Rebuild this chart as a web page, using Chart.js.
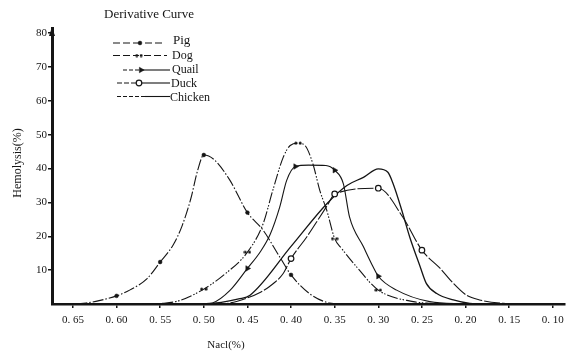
<!DOCTYPE html>
<html>
<head>
<meta charset="utf-8">
<script src="https://cdn.jsdelivr.net/npm/chart.js@4.4.0/dist/chart.umd.min.js"></script>
<style>
html,body{margin:0;padding:0;background:#fff;}
#wrap{width:570px;height:354px;position:relative;}
</style>
</head>
<body>
<div id="wrap"><canvas id="c" width="570" height="354"></canvas></div>
<script>
// ---- data ----
const chartTitle = 'Derivative Curve';
const xAxisTitle = 'Nacl(%)';
const yAxisTitle = 'Hemolysis(%)';
const xTickValues = [0.65, 0.60, 0.55, 0.50, 0.45, 0.40, 0.35, 0.30, 0.25, 0.20, 0.15, 0.10];
const yTickValues = [10, 20, 30, 40, 50, 60, 70, 80];
const seriesNames = ['Pig', 'Dog', 'Quail', 'Duck', 'Chicken'];

const pigNacl = [0.665, 0.65, 0.635, 0.62, 0.60, 0.585, 0.565, 0.55, 0.535, 0.525, 0.515, 0.507, 0.50, 0.488, 0.47, 0.45, 0.432, 0.413, 0.40, 0.379, 0.356, 0.34];
const pigHemo = [0, 0, 0.3, 1.0, 2.4, 4.1, 7.5, 12.4, 17.5, 23, 31, 39.5, 44, 42.6, 36.5, 27, 21.8, 13.9, 8.6, 3.1, 0.3, 0];
const pigMarks = [0.60, 0.55, 0.50, 0.45, 0.40];

const dogNacl = [0.57, 0.547, 0.528, 0.50, 0.475, 0.45, 0.432, 0.421, 0.409, 0.401, 0.392, 0.384, 0.375, 0.367, 0.359, 0.35, 0.342, 0.325, 0.30, 0.26, 0.24, 0.22];
const dogHemo = [0, 0.2, 1.0, 4.4, 9, 15.3, 23.7, 33.5, 43.3, 46.8, 47.5, 46.8, 41.4, 33.5, 27.6, 19.3, 16.4, 11, 4.1, 0.7, 0.2, 0];
const dogMarks = [0.50, 0.45, 0.392, 0.35, 0.30];

const quailNacl = [0.50, 0.49, 0.47, 0.45, 0.435, 0.424, 0.413, 0.405, 0.395, 0.38, 0.36, 0.35, 0.34, 0.333, 0.317, 0.306, 0.30, 0.279, 0.241, 0.20];
const quailHemo = [0, 0.3, 4, 10.5, 15.5, 20.5, 28.6, 36.5, 40.6, 41, 40.9, 39.5, 35.5, 25.7, 16.9, 11, 8.2, 4.1, 0.7, 0];
const quailMarks = [0.45, 0.395, 0.35, 0.30];

const duckNacl = [0.49, 0.47, 0.45, 0.435, 0.425, 0.409, 0.40, 0.382, 0.367, 0.358, 0.35, 0.30, 0.272, 0.25, 0.229, 0.214, 0.199, 0.184, 0.157, 0.13];
const duckHemo = [0, 0.3, 1.8, 3.5, 5.1, 9, 13.4, 19.8, 25.7, 29.3, 32.5, 34.2, 25.7, 15.9, 10.5, 6.1, 2.6, 1.2, 0.2, 0];
const duckMarks = [0.40, 0.35, 0.30, 0.25];

const chickenNacl = [0.50, 0.48, 0.46, 0.447, 0.40, 0.359, 0.336, 0.317, 0.30, 0.289, 0.283, 0.273, 0.264, 0.252, 0.245, 0.233, 0.214, 0.195, 0.17];
const chickenHemo = [0, 0.5, 1.5, 2.6, 17, 29.6, 35, 37.4, 39.9, 38.9, 35.5, 27.6, 19.8, 11, 6.1, 3.1, 1.2, 0.2, 0];
const chickenMarks = [];

// ---- styles ----
const INK = '#151515';
const SERIF = '"Liberation Serif", "DejaVu Serif", serif';

function makeDoubleDot() {
  const cv = document.createElement('canvas');
  cv.width = 8; cv.height = 4;
  const c = cv.getContext('2d');
  c.fillStyle = INK;
  c.beginPath(); c.arc(1.8, 2, 1.5, 0, Math.PI * 2); c.fill();
  c.beginPath(); c.arc(6.2, 2, 1.5, 0, Math.PI * 2); c.fill();
  return cv;
}
const doubleDot = makeDoubleDot();

const styles = {
  Pig:     {dash: [11, 2, 1.5, 2], style: 'circle', radius: 1.9, fill: INK, rotation: 0},
  Dog:     {dash: [11, 2, 1.5, 1.5, 1.5, 2], style: doubleDot, radius: 3, fill: INK, rotation: 0},
  Quail:   {dash: [], style: 'triangle', radius: 3.2, fill: INK, rotation: 90},
  Duck:    {dash: [16, 2], style: 'circle', radius: 2.8, fill: '#fff', rotation: 0},
  Chicken: {dash: [], style: 'circle', radius: 0, fill: INK, rotation: 0}
};

const seriesData = {
  Pig: [pigNacl, pigHemo, pigMarks],
  Dog: [dogNacl, dogHemo, dogMarks],
  Quail: [quailNacl, quailHemo, quailMarks],
  Duck: [duckNacl, duckHemo, duckMarks],
  Chicken: [chickenNacl, chickenHemo, chickenMarks]
};

const datasets = seriesNames.map(name => {
  const [xs, ys, marks] = seriesData[name];
  const st = styles[name];
  return {
    label: name,
    data: xs.map((x, i) => ({x: x, y: ys[i]})),
    borderColor: INK,
    borderWidth: name === 'Chicken' ? 1.3 : 1.1,
    borderDash: st.dash,
    cubicInterpolationMode: 'monotone',
    fill: false,
    pointStyle: st.style,
    pointRotation: st.rotation,
    pointBackgroundColor: st.fill,
    pointBorderColor: INK,
    pointBorderWidth: name === 'Duck' ? 1.2 : 0.5,
    pointRadius: ctx => (ctx.raw && marks.includes(ctx.raw.x)) ? st.radius : 0,
    pointHoverRadius: 0
  };
});

const legendDash = {Pig: [7, 3], Dog: [7, 3], Quail: [4, 2], Duck: [5, 2], Chicken: [4, 2]};

const decor = {
  id: 'decor',
  afterDraw(chart) {
    const ctx = chart.ctx;
    const area = chart.chartArea;
    ctx.save();
    ctx.fillStyle = INK;
    ctx.strokeStyle = INK;
    // title
    ctx.font = '13px ' + SERIF;
    ctx.textAlign = 'center';
    ctx.textBaseline = 'middle';
    ctx.fillText(chartTitle, 149, 15);
    // arrow on y axis
    ctx.beginPath();
    ctx.moveTo(area.left, area.top - 1);
    ctx.lineTo(area.left - 3, area.top + 8);
    ctx.lineTo(area.left + 3, area.top + 8);
    ctx.closePath();
    ctx.fill();
    // legend
    const rows = [
      {name: 'Pig', x1: 113, x2: 165, y: 43, mx: 140, tx: 173, ty: 40.5},
      {name: 'Dog', x1: 113, x2: 167, y: 55.5, mx: 139, tx: 172, ty: 56},
      {name: 'Quail', x1: 123, x2: 170, y: 70, mx: 141, tx: 172, ty: 70},
      {name: 'Duck', x1: 117, x2: 170, y: 83, mx: 139, tx: 171, ty: 84},
      {name: 'Chicken', x1: 117, x2: 170, y: 96.5, mx: null, tx: 170, ty: 97.5}
    ];
    rows.forEach(r => {
      const st = styles[r.name];
      ctx.save();
      ctx.lineWidth = 1.1;
      ctx.setLineDash(legendDash[r.name]);
      ctx.beginPath();
      const solidFrom = (r.name === 'Chicken') ? 145 : (r.mx !== null ? r.mx : r.x2);
      ctx.moveTo(r.x1, r.y);
      ctx.lineTo(solidFrom, r.y);
      ctx.stroke();
      if (r.name === 'Pig' || r.name === 'Dog') {
        ctx.beginPath(); ctx.moveTo(solidFrom + 5, r.y); ctx.lineTo(r.x2, r.y); ctx.stroke();
      } else {
        ctx.setLineDash([]);
        ctx.beginPath(); ctx.moveTo(solidFrom, r.y); ctx.lineTo(r.x2, r.y); ctx.stroke();
      }
      ctx.restore();
      if (r.mx !== null) {
        ctx.save();
        ctx.fillStyle = st.fill;
        ctx.strokeStyle = INK;
        ctx.lineWidth = r.name === 'Duck' ? 1.2 : 0.5;
        Chart.helpers.drawPoint(ctx, {pointStyle: st.style, radius: st.radius, rotation: st.rotation, borderWidth: ctx.lineWidth}, r.mx, r.y);
        ctx.restore();
      }
      ctx.font = (r.name === 'Pig' ? '13px ' : '12px ') + SERIF;
      ctx.textAlign = 'left';
      ctx.textBaseline = 'middle';
      ctx.fillStyle = INK;
      ctx.fillText(r.name, r.tx, r.ty);
    });
    // axis titles
    ctx.font = '11px ' + SERIF;
    ctx.textAlign = 'center';
    ctx.textBaseline = 'middle';
    ctx.fillText(xAxisTitle, 226, 345);
    ctx.font = '12px ' + SERIF;
    ctx.save();
    ctx.translate(18, 163);
    ctx.rotate(-Math.PI / 2);
    ctx.fillText(yAxisTitle, 0, 0);
    ctx.restore();
    ctx.restore();
  }
};

new Chart(document.getElementById('c'), {
  type: 'line',
  data: {datasets: datasets},
  plugins: [decor],
  options: {
    responsive: false,
    animation: false,
    devicePixelRatio: 1,
    layout: {padding: {top: 28, right: 5, left: 0, bottom: 0}},
    plugins: {legend: {display: false}, title: {display: false}, tooltip: {enabled: false}},
    scales: {
      x: {
        type: 'linear',
        reverse: true,
        min: 0.086,
        max: 0.674,
        afterBuildTicks: s => { s.ticks = xTickValues.map(v => ({value: v})); },
        afterFit: s => { s.height = 50; },
        ticks: {
          callback: v => Number(v).toFixed(2).replace('.', '. '),
          font: {family: SERIF, size: 11},
          color: INK,
          padding: 6,
          maxRotation: 0,
          autoSkip: false
        },
        grid: {display: true, drawOnChartArea: false, drawTicks: true, tickLength: 4, color: INK, lineWidth: 1.5},
        border: {display: true, color: INK, width: 2.5}
      },
      y: {
        type: 'linear',
        min: 0,
        max: 81.5,
        afterBuildTicks: s => { s.ticks = yTickValues.map(v => ({value: v})); },
        afterFit: s => { s.width = 52; },
        ticks: {
          callback: v => String(v),
          font: {family: SERIF, size: 11},
          color: INK,
          padding: 1
        },
        grid: {display: true, drawOnChartArea: false, drawTicks: true, tickLength: 4, color: INK, lineWidth: 1.5},
        border: {display: true, color: INK, width: 3}
      }
    }
  }
});
</script>
</body>
</html>
